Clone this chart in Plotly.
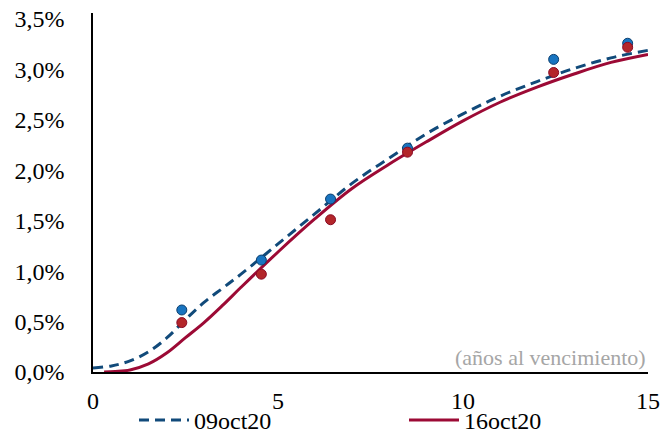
import plotly.graph_objects as go

# curvas estimadas (años al vencimiento, tasa)
plazos_09 = [0, 0.5, 1, 1.5, 2, 2.5, 3, 3.5, 4, 5, 6, 7, 8, 9, 10, 11, 12, 13, 14, 15]
curva_09 = [0.0004, 0.0006, 0.0011, 0.0020, 0.0034, 0.0052, 0.0069, 0.0083, 0.0097, 0.0127,
            0.0157, 0.0187, 0.0212, 0.0236, 0.0256, 0.02735, 0.0288, 0.0301, 0.03115, 0.0319]

plazos_16 = [0.3, 0.6, 1, 1.5, 2, 2.5, 3, 3.5, 4, 5, 6, 7, 8, 9, 10, 11, 12, 13, 14, 15]
curva_16 = [0.0, 0.00005, 0.0002, 0.0008, 0.0019, 0.0034, 0.0049, 0.0066, 0.0084, 0.0119,
            0.0152, 0.0182, 0.0206, 0.0228, 0.0249, 0.02675, 0.02825, 0.02955, 0.0307, 0.0315]

# observaciones
plazos_obs = [2.4, 4.55, 6.42, 8.5, 12.45, 14.45]
obs_09 = [0.00615, 0.0111, 0.01715, 0.0222, 0.0310, 0.0326]
obs_16 = [0.0049, 0.0097, 0.0151, 0.0218, 0.0297, 0.0322]

azul = "#114a7a"
rojo = "#9c0a35"
fuente = "Liberation Serif, Times New Roman, serif"

ancho, alto = 661, 443

fig = go.Figure()

fig.add_trace(go.Scatter(x=plazos_09, y=curva_09, mode="lines", name="09oct20", legend="legend",
                         line=dict(color=azul, width=3, dash="10px,6px", shape="spline")))
fig.add_trace(go.Scatter(x=plazos_16, y=curva_16, mode="lines", name="16oct20", legend="legend2",
                         line=dict(color=rojo, width=3, shape="spline")))
fig.add_trace(go.Scatter(x=plazos_obs, y=obs_09, mode="markers", showlegend=False,
                         marker=dict(size=10, color="#1874c0", line=dict(color="#0d3f6e", width=1))))
fig.add_trace(go.Scatter(x=plazos_obs, y=obs_16, mode="markers", showlegend=False,
                         marker=dict(size=10, color="#b3262a", line=dict(color="#8a0a25", width=1))))

fig.add_annotation(text="(años al vencimiento)", xref="paper", yref="paper", x=1, y=0.0,
                   xanchor="right", yanchor="bottom", showarrow=False,
                   font=dict(family=fuente, size=22, color="#a6a6a6"))

leyenda = dict(orientation="h", xref="container", yref="container", xanchor="left",
               yanchor="bottom", y=0, itemwidth=50, font=dict(family=fuente, size=24),
               bgcolor="rgba(0,0,0,0)")

fig.update_layout(
    width=ancho, height=alto,
    margin=dict(l=93, r=13, t=13, b=71, autoexpand=False),
    paper_bgcolor="white", plot_bgcolor="white",
    separators=",.",
    font=dict(family=fuente, size=24, color="black"),
    showlegend=True,
    legend=dict(leyenda, x=134 / ancho),
    legend2=dict(leyenda, x=404 / ancho),
    hovermode=False,
)
fig.update_xaxes(range=[0, 15], tickvals=[0, 5, 10, 15], showgrid=False, zeroline=False,
                 automargin=False, showline=True, linecolor="black", linewidth=1.5, ticks="",
                 ticklabelstandoff=6, ticklabeloverflow="allow")
fig.update_yaxes(range=[0, 0.0356], tickvals=[0, 0.005, 0.01, 0.015, 0.02, 0.025, 0.03, 0.035],
                 tickformat=".1%", showgrid=False, zeroline=False, automargin=False,
                 showline=True, linecolor="black", linewidth=1.5, ticks="", ticklabelstandoff=22,
                 ticklabeloverflow="allow")

# sin el margen por defecto del body, el gráfico ocupa la ventana entera
fig.write_html("out.html", config={"displayModeBar": False},
               post_script="document.body.style.margin='0px';")
